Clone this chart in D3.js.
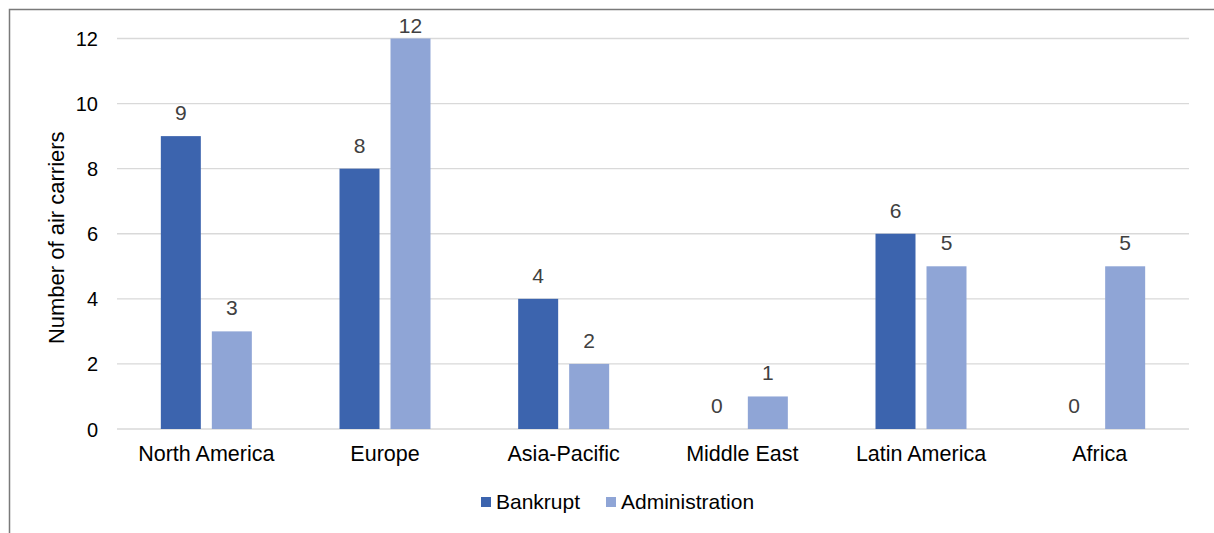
<!DOCTYPE html>
<html>
<head>
<meta charset="utf-8">
<script src="https://cdn.jsdelivr.net/npm/d3@7/dist/d3.min.js"></script>
<style>
  html, body { margin: 0; padding: 0; background: #fff; }
  svg { display: block; font-family: "Liberation Sans", Arial, sans-serif; }
</style>
</head>
<body>
<svg id="chart" width="1214" height="533"></svg>
<script>
// Air carrier failures by region
const regions = ["North America", "Europe", "Asia-Pacific", "Middle East", "Latin America", "Africa"];
const seriesNames = ["Bankrupt", "Administration"];
const bankrupt = [9, 8, 4, 0, 6, 0];
const administration = [3, 12, 2, 1, 5, 5];
const yTicks = [0, 2, 4, 6, 8, 10, 12];
const colors = ["#3C64AE", "#8FA5D6"];

const svg = d3.select("#chart");
const W = 1214, H = 533;
const plot = { left: 117, right: 1189, top: 38.5, bottom: 429 };

// outer frame (top and left edges visible)
svg.append("path")
  .attr("d", `M9.5,${H} V9.5 H${W}`)
  .attr("fill", "none")
  .attr("stroke", "#7a7a7a")
  .attr("stroke-width", 1.5);

const x = d3.scaleBand().domain(regions).range([plot.left, plot.right]);
const y = d3.scaleLinear().domain([0, 12]).range([plot.bottom, plot.top]);

// gridlines
svg.append("g")
  .selectAll("line")
  .data(yTicks)
  .join("line")
  .attr("x1", plot.left).attr("x2", plot.right)
  .attr("y1", d => y(d)).attr("y2", d => y(d))
  .attr("stroke", "#d9d9d9")
  .attr("stroke-width", 1.3);

// y axis tick labels
const yAxis = d3.axisLeft(y).tickValues(yTicks).tickSize(0).tickPadding(0);
const yg = svg.append("g").attr("transform", `translate(98,0)`).call(yAxis);
yg.select(".domain").remove();
yg.selectAll("text").attr("font-size", 20).attr("fill", "#000").attr("dy", "0.35em")
  .attr("font-family", "Liberation Sans, Arial, sans-serif");

// x axis category labels
const xAxis = d3.axisBottom(x).tickSize(0).tickPadding(0);
const xg = svg.append("g").attr("transform", `translate(0,${plot.bottom})`).call(xAxis);
xg.select(".domain").remove();
xg.selectAll("text").attr("font-size", 21.5).attr("fill", "#000").attr("y", 32).attr("dy", 0)
  .attr("font-family", "Liberation Sans, Arial, sans-serif");

// axis title
svg.append("text")
  .attr("transform", `translate(64,${(plot.top + plot.bottom) / 2 + 4}) rotate(-90)`)
  .attr("text-anchor", "middle")
  .attr("font-size", 22)
  .attr("fill", "#000")
  .text("Number of air carriers");

// bars
const barW = 40, gap = 11;
const inner = d3.scaleOrdinal().domain(seriesNames).range([-gap / 2 - barW, gap / 2]);
const series = [bankrupt, administration];

series.forEach((vals, si) => {
  const g = svg.append("g");
  const data = regions.map((r, i) => ({ r, v: vals[i] }));
  g.selectAll("rect")
    .data(data)
    .join("rect")
    .attr("x", d => x(d.r) + x.bandwidth() / 2 + inner(seriesNames[si]))
    .attr("y", d => y(d.v))
    .attr("width", barW)
    .attr("height", d => y(0) - y(d.v))
    .attr("fill", colors[si]);
  // value labels, kept inside the plot area
  g.selectAll("text")
    .data(data)
    .join("text")
    .attr("x", d => x(d.r) + x.bandwidth() / 2 + inner(seriesNames[si]) + barW / 2)
    .attr("y", d => Math.max(y(d.v) - 16, 33))
    .attr("text-anchor", "middle")
    .attr("font-size", 21)
    .attr("fill", "#404040")
    .text(d => d.v);
});

// legend
const legend = svg.append("g");
const legendX = [481, 606];
seriesNames.forEach((name, i) => {
  legend.append("rect")
    .attr("x", legendX[i]).attr("y", 497)
    .attr("width", 10).attr("height", 10)
    .attr("fill", colors[i]);
  legend.append("text")
    .attr("x", legendX[i] + 15).attr("y", 509)
    .attr("font-size", 21)
    .attr("fill", "#000")
    .text(name);
});
</script>
</body>
</html>
